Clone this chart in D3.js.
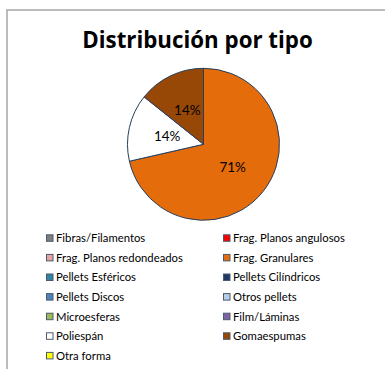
<!DOCTYPE html>
<html>
<head>
<meta charset="utf-8">
<script src="https://cdn.jsdelivr.net/npm/d3@7"></script>
<style>
  html, body { margin: 0; padding: 0; background: #fff; }
  svg { display: block; }
  text { font-family: Lato, "Open Sans", sans-serif; }
  text.title { font-family: "Open Sans", sans-serif; }
</style>
</head>
<body>
<svg id="chart" width="385" height="369"></svg>
<script>
// Categories of particle type, in legend order
const categories = [
  "Fibras/Filamentos", "Frag. Planos angulosos",
  "Frag. Planos redondeados", "Frag. Granulares",
  "Pellets Esféricos", "Pellets Cilíndricos",
  "Pellets Discos", "Otros pellets",
  "Microesferas", "Film/Láminas",
  "Poliespán", "Gomaespumas",
  "Otra forma"
];
// Particle counts per type
const counts = [0, 0, 0, 5, 0, 0, 0, 0, 0, 0, 1, 1, 0];
const colors = [
  "#7f7f7f", "#ff0000",
  "#e6a3a0", "#e46c0a",
  "#31859c", "#1f3864",
  "#4f81bd", "#b9cde5",
  "#9bbb59", "#8064a2",
  "#ffffff", "#974806",
  "#ffff00"
];
const title = "Distribución por tipo";

const svg = d3.select("#chart");

// Chart area frame (top and left edges visible)
svg.append("path")
  .attr("d", "M7,369 L7,10 L385,10")
  .attr("fill", "none")
  .attr("stroke", "#a6a6a6")
  .attr("stroke-width", 1.5);

svg.append("text")
  .attr("class", "title")
  .attr("x", 197.5)
  .attr("y", 48)
  .attr("text-anchor", "middle")
  .attr("font-size", 22.3)
  .attr("font-weight", "bold")
  .attr("fill", "#000")
  .text(title);

const data = categories.map((c, i) => ({ name: c, value: counts[i], color: colors[i] }));
const total = d3.sum(counts);

const cx = 203.5, cy = 144.3, r = 76;
const pie = d3.pie().sort(null).value(d => d.value);
const arc = d3.arc().innerRadius(0).outerRadius(r);
const labelArc = d3.arc().innerRadius(0).outerRadius(r * 0.98);

const arcs = pie(data).filter(d => d.data.value > 0);
const g = svg.append("g").attr("transform", `translate(${cx},${cy})`);

g.selectAll("path.slice")
  .data(arcs)
  .join("path")
  .attr("class", "slice")
  .attr("d", arc)
  .attr("fill", d => d.data.color)
  .attr("stroke", "#243f60")
  .attr("stroke-width", 1);

g.selectAll("text.pct")
  .data(arcs)
  .join("text")
  .attr("class", "pct")
  .attr("transform", d => `translate(${labelArc.centroid(d)})`)
  .attr("text-anchor", "middle")
  .attr("dy", "0.35em")
  .attr("font-size", 13.5)
  .attr("fill", "#000")
  .text(d => Math.round(d.data.value / total * 100) + "%");

// Legend: two columns, row-wise
const colX = [46, 223];
const rowY0 = 238.3, rowH = 19.6;
const leg = svg.append("g");
const items = leg.selectAll("g.item")
  .data(data)
  .join("g")
  .attr("class", "item")
  .attr("transform", (d, i) => `translate(${colX[i % 2]},${rowY0 + Math.floor(i / 2) * rowH})`);

items.append("rect")
  .attr("x", 0.5)
  .attr("y", -3.5)
  .attr("width", 6.5)
  .attr("height", 6.5)
  .attr("fill", d => d.color)
  .attr("stroke", "#4a5a70")
  .attr("stroke-width", 1);

items.append("text")
  .attr("x", 10)
  .attr("y", 0)
  .attr("dy", "0.35em")
  .attr("font-size", 11.3)
  .attr("fill", "#000")
  .text(d => d.name);
</script>
</body>
</html>
